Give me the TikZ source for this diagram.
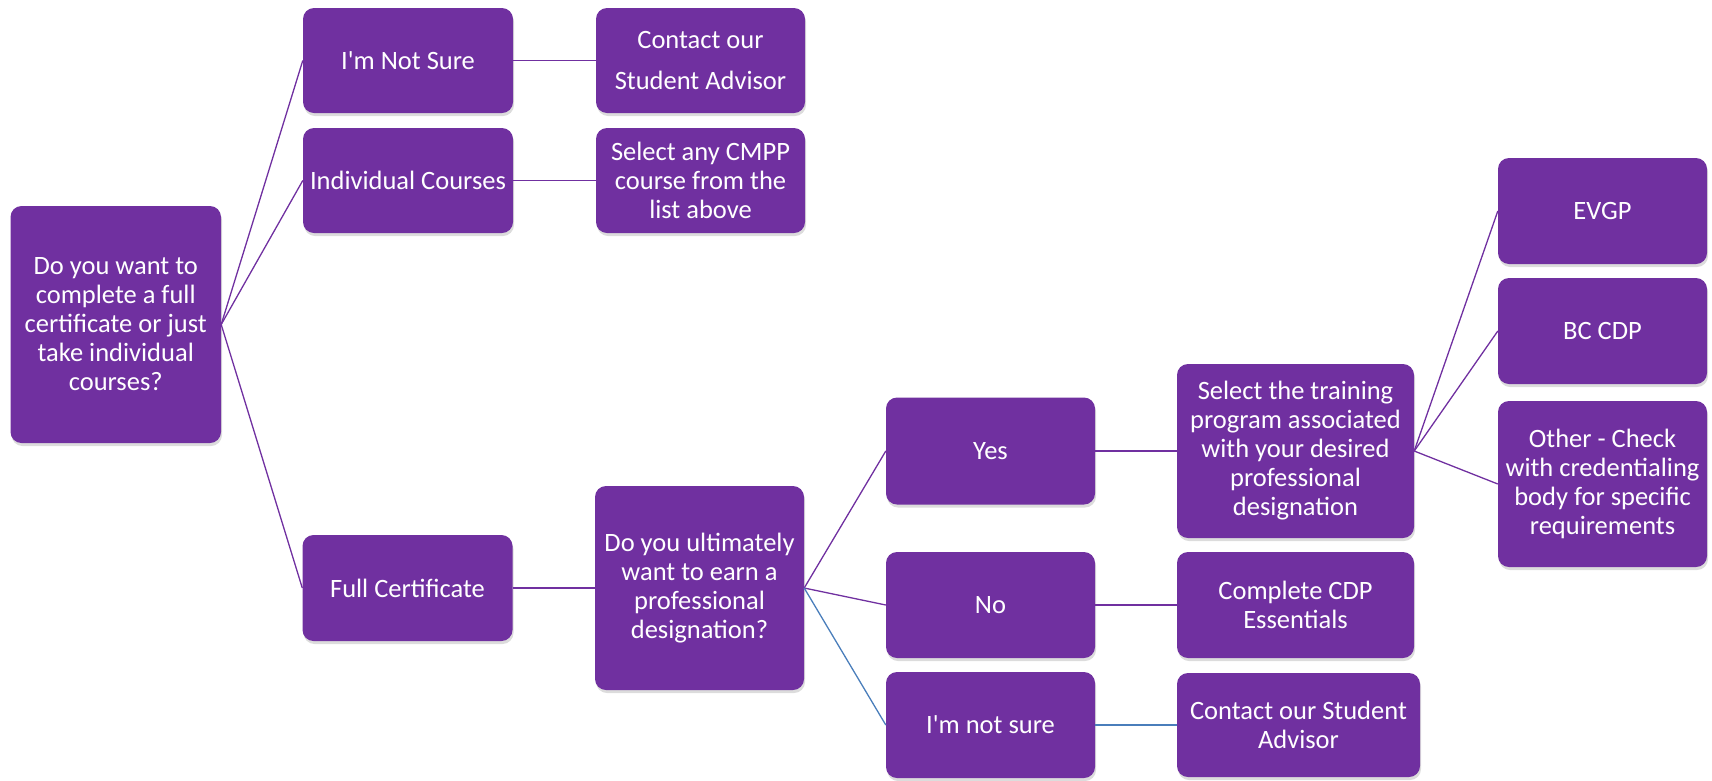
\documentclass[tikz,border=0pt]{standalone}
\usepackage{fontspec}
\setmainfont{Carlito}
\usetikzlibrary{shadows}
\definecolor{boxpurple}{HTML}{7030A0}
\definecolor{lineblue}{HTML}{4A7EBB}
\tikzset{
  box/.style={rectangle, rounded corners=11pt, fill=boxpurple, draw=none,
    text=white, align=center, inner sep=0pt,
    font=\fontsize{26.5}{29}\selectfont,
    drop shadow={opacity=0.28, shadow xshift=1pt, shadow yshift=-3pt}},
  link/.style={draw=boxpurple, line width=1.3pt},
  bluelink/.style={draw=lineblue, line width=1.3pt}
}
\begin{document}
\begin{tikzpicture}[x=1pt,y=-1pt]
\useasboundingbox (0,0) rectangle (1712,780);
\node[box, minimum width=210.5pt, minimum height=237pt] (root) at (115.75,324.5)
  {Do you want to\\complete a full\\certificate or just\\take individual\\courses?};
\node[box, minimum width=210pt, minimum height=105pt] (ns1) at (408,60.5) {I\textquotesingle m Not Sure};
\node[box, minimum width=209pt, minimum height=105pt, font=\fontsize{26.5}{41}\selectfont] (ct1) at (700.5,60.5) {Contact our\\Student Advisor};
\node[box, minimum width=210pt, minimum height=105pt] (ind) at (408,180.5) {Individual Courses};
\node[box, minimum width=209pt, minimum height=105pt] (sel) at (700.5,180.5) {Select any CMPP\\course from the\\list above};
\node[box, minimum width=210pt, minimum height=106pt] (full) at (407.5,588) {Full Certificate};
\node[box, minimum width=209pt, minimum height=204pt] (ult) at (699.5,588) {Do you ultimately\\want to earn a\\professional\\designation?};
\node[box, minimum width=209pt, minimum height=107pt] (yes) at (990.5,451) {Yes};
\node[box, minimum width=209pt, minimum height=106pt] (no) at (990.5,605) {No};
\node[box, minimum width=209pt, minimum height=106pt] (ns2) at (990.5,725) {I\textquotesingle m not sure};
\node[box, minimum width=237pt, minimum height=174pt] (trn) at (1295.5,451) {Select the training\\program associated\\with your desired\\professional\\designation};
\node[box, minimum width=237pt, minimum height=106pt] (cmp) at (1295.5,605) {Complete CDP\\Essentials};
\node[box, minimum width=243pt, minimum height=104pt] (ct2) at (1298.5,725) {Contact our Student\\Advisor};
\node[box, minimum width=209pt, minimum height=106pt] (evgp) at (1602.5,211) {EVGP};
\node[box, minimum width=209pt, minimum height=106pt] (bc) at (1602.5,331) {BC CDP};
\node[box, minimum width=209pt, minimum height=166pt] (oth) at (1602.5,484) {Other - Check\\with credentialing\\body for specific\\requirements};
\draw[link] (root.east) -- (ns1.west);
\draw[link] (root.east) -- (ind.west);
\draw[link] (root.east) -- (full.west);
\draw[link] (ns1.east) -- (ct1.west);
\draw[link] (ind.east) -- (sel.west);
\draw[link] (full.east) -- (ult.west);
\draw[link] (ult.east) -- (yes.west);
\draw[link] (ult.east) -- (no.west);
\draw[bluelink] (ult.east) -- (ns2.west);
\draw[link] (yes.east) -- (trn.west);
\draw[link] (no.east) -- (cmp.west);
\draw[bluelink] (ns2.east) -- (ct2.west);
\draw[link] (trn.east) -- (evgp.west);
\draw[link] (trn.east) -- (bc.west);
\draw[link] (trn.east) -- (oth.west);
\end{tikzpicture}
\end{document}
